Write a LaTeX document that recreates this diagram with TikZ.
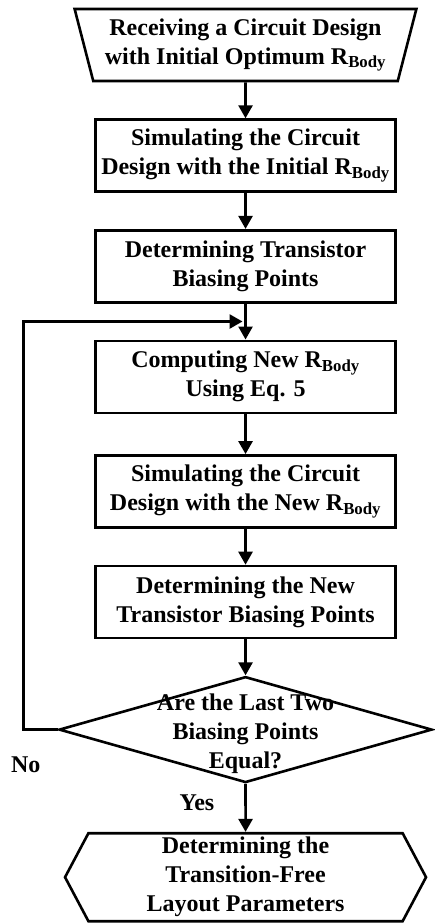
\documentclass[tikz,border=0pt]{standalone}
\usepackage{fontspec}
\setmainfont{Liberation Serif}
\usepackage{tikz}
\usetikzlibrary{arrows.meta,positioning,shapes,calc}
\newcommand{\rbody}{R\textsubscript{Body}}

\begin{document}
\begin{tikzpicture}[
  node distance=36pt,
  every node/.style={font=\fontsize{24}{29}\selectfont\bfseries, align=center},
  box/.style={draw, line width=2.6pt, minimum width=300pt, minimum height=72pt, inner sep=2pt},
  io/.style={draw, line width=2.6pt, trapezium, trapezium left angle=107, trapezium right angle=107, trapezium stretches=true, minimum width=343pt, minimum height=72pt, inner sep=2pt},
  decision/.style={draw, line width=2.6pt, diamond, minimum width=373pt, minimum height=106pt, inner sep=0pt},
  stopbox/.style={draw, line width=2.6pt, signal, signal to=west and east, signal pointer angle=124, minimum width=361pt, minimum height=88pt, inner xsep=1pt, inner ysep=0pt},
  arr/.style={-{Triangle[length=13pt,width=14pt]}, line width=2.6pt},
  lbl/.style={inner sep=0pt},
]
  \useasboundingbox (0,0) rectangle (435pt,-923pt);

  % Setup steps
  \node[io] (start) at (245.5pt,-45pt) {Receiving a Circuit Design\\with Initial Optimum \rbody};
  \node[box, below=of start] (sim1) {Simulating the Circuit\\Design with the Initial \rbody};
  \node[box, below=of sim1] (bias1) {Determining Transistor\\Biasing Points};

  % Iteration
  \node[box, below=of bias1] (rbody) {Computing New \rbody\\Using Eq. 5};
  \node[box, below=40pt of rbody] (sim2) {Simulating the Circuit\\Design with the New \rbody};
  \node[box, below=of sim2] (bias2) {Determining the New\\Transistor Biasing Points};
  \node[decision, below=of bias2] (test) {};
  \node[lbl, yshift=-4pt] (testtext) at (test) {Are the Last Two\\Biasing Points\\Equal?};

  % Result
  \node[stopbox, below=48pt of test] (done) {Determining the\\Transition-Free\\Layout Parameters};

  \coordinate (merge) at ($(bias1.south)!0.5!(rbody.north)$);

  % Edges
  \draw[arr] (start) -- (sim1);
  \draw[arr] (sim1) -- (bias1);
  \draw[arr] (bias1) -- (rbody);
  \draw[arr] (rbody) -- (sim2);
  \draw[arr] (sim2) -- (bias2);
  \draw[arr] (bias2) -- (test);
  \draw[arr] (test) -- node[lbl, pos=0.4, left=30pt] (yes) {Yes} (done);
  \draw[arr, shorten >=3pt] (test.west) -- ++(-34pt,0) coordinate (corner) |- (merge);
  \node[lbl, below=27pt of corner, xshift=2pt] (no) {No};
\end{tikzpicture}
\end{document}
